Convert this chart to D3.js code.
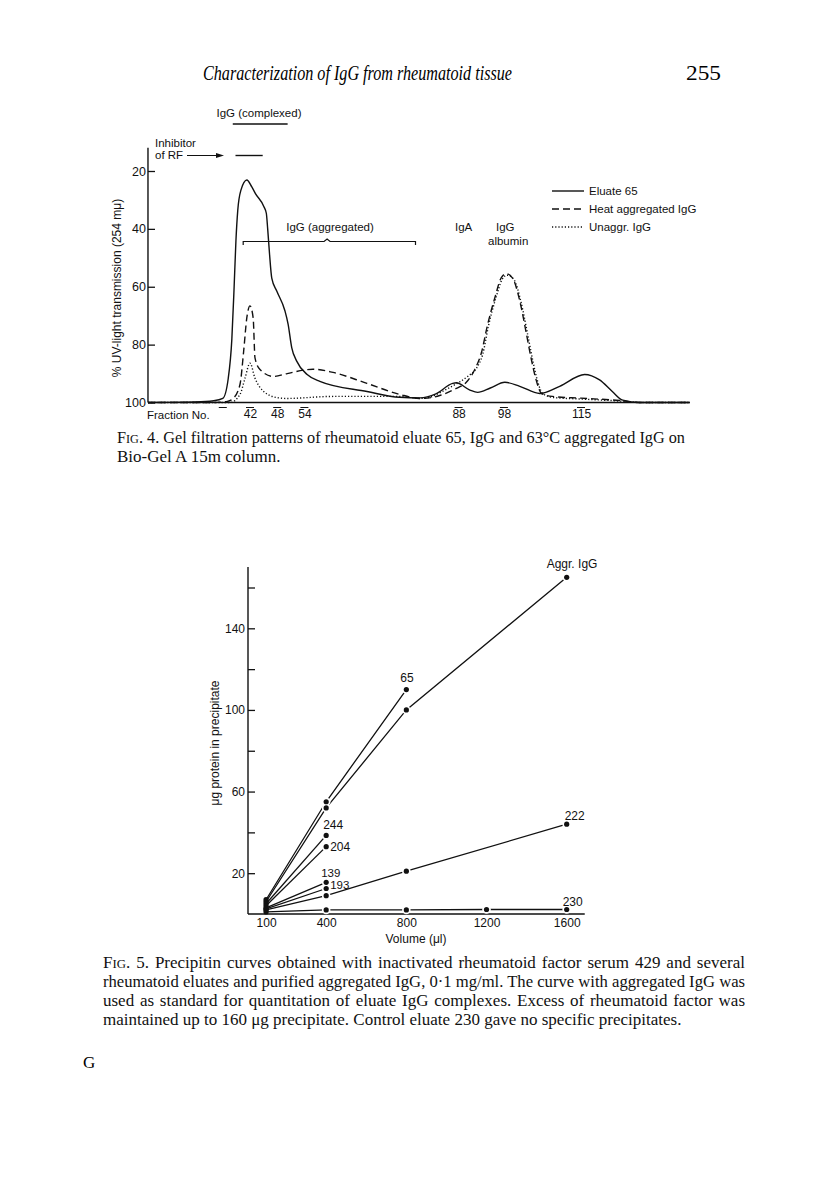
<!DOCTYPE html>
<html><head><meta charset="utf-8">
<script src="https://cdn.jsdelivr.net/npm/d3@7"></script>
<style>body{margin:0;background:#fff}svg{display:block}</style>
</head><body>
<svg id="page" width="816" height="1190"></svg>
<script>
// ---------------- DATA ----------------
// Fig. 4 : fraction number vs % UV-light transmission
const fig4FractionTicks = [42, 48, 54, 88, 98, 115];
const fig4BlankTicks = [36];
const fig4YTicks = [20, 40, 60, 80, 100];
const eluate65 = [[19.5,100],[30,99.8],[34,99.4],[36,98.6],[37.2,91.7],[38,78],[38.5,60],[38.9,44],[39.3,33.6],[40,26.6],[41.3,23.1],[42.4,25.5],[43.2,27.8],[45.1,32.4],[45.6,34.6],[45.9,40],[46.3,48.5],[46.8,57],[47.9,61.5],[49.7,68.3],[50.4,72.9],[51.2,81],[52.3,85.7],[54.6,90.3],[57.4,92.7],[67.8,96.2],[75,98.2],[79.5,98.4],[83,97],[86.7,93.4],[87.5,93.2],[90.5,95.7],[92.2,96.5],[95,95],[98.2,93],[101.5,94.4],[105.9,96.9],[110.3,94.4],[115.8,90.3],[119.1,92.2],[121.9,96.2],[124.2,99.2],[128,100],[139,100]];
const heatAggregatedIgG = [[19.5,100],[34,100],[37,99.6],[38.3,98.6],[39.8,93.7],[40.6,82.3],[41.3,70.7],[42,66.6],[42.7,70.8],[43.1,84.6],[44.2,88.6],[47.2,91],[50.2,90],[55.9,88.5],[60.3,89.6],[67.8,93.4],[75,97.2],[79.5,98.6],[82,98.3],[84,97.5],[87,95.5],[90,92.5],[91.6,88.5],[93,83],[94.4,73.1],[96,63.8],[97.4,56.9],[98.5,55.5],[99.9,57],[101.5,64.9],[103,76.6],[104,84.7],[105.1,92.2],[106.3,96.9],[108.7,97.9],[115,98.5],[123.5,99.3],[128,100],[139,100]];
const unaggregatedIgG = [[19.5,100],[37.6,100],[39.8,97.2],[40.9,91.6],[42,86.4],[43.1,91.6],[44.9,96],[47.9,98.3],[50.1,98.6],[60.3,97.9],[75,97.9],[79.5,98.6],[82,98],[84,96.5],[87,94],[90,91],[92,88],[93.3,83.5],[94.6,73.5],[96.2,64],[97.6,57.5],[98.7,56],[100.2,57.5],[101.8,65.5],[103.3,77],[104.3,85],[105.4,92.5],[106.6,97],[109,98.3],[115,98.8],[123.5,99.5],[128,100],[139,100]];
const fig4Legend = ["Eluate 65", "Heat aggregated IgG", "Unaggr. IgG"];

// Fig. 5 : volume (µl) vs µg protein in precipitate
const fig5XTicks = [100, 400, 800, 1200, 1600];
const fig5YMajor = [20, 60, 100, 140];
const fig5YMinor = [40, 80, 120, 160];
const aggrIgG = [[100,6],[400,52],[800,100],[1600,165]];
const eluate65b = [[100,7],[400,55],[800,110]];
const eluate244 = [[100,5],[400,38.5]];
const eluate204 = [[100,4],[400,33]];
const eluate139 = [[100,3],[400,15.5]];
const eluate193 = [[100,2.5],[400,12.5]];
const eluate222 = [[100,2],[400,9],[800,21],[1600,44]];
const eluate230 = [[100,1],[400,2],[800,2],[1200,2.2],[1600,2.2]];
const fig5SeriesNames = ["Aggr. IgG","65","244","204","139","193","222","230"];

// ---------------- DRAW ----------------
const svg = d3.select("#page");
const SANS = "'Liberation Sans', Arial, sans-serif";
const SERIF = "'Liberation Serif', 'Times New Roman', serif";

// Running head
svg.append("text").attr("x", 203).attr("y", 80).attr("font-family", SERIF)
  .attr("font-style", "italic").attr("font-size", 20).attr("textLength", 309)
  .attr("lengthAdjust", "spacingAndGlyphs")
  .text("Characterization of IgG from rheumatoid tissue");
svg.append("text").attr("x", 686).attr("y", 80).attr("font-family", SERIF)
  .attr("font-size", 21).attr("textLength", 35).attr("lengthAdjust", "spacingAndGlyphs").text("255");

// ===== Fig 4 =====
const g4 = svg.append("g").attr("font-family", SANS).attr("fill", "#111");
const xF = d3.scaleLinear().domain([42, 115]).range([250, 581]);
const yF = d3.scaleLinear().domain([20, 100]).range([171, 402.5]);

g4.append("line").attr("x1", xF(19.5)).attr("x2", xF(19.5)).attr("y1", yF(12)).attr("y2", yF(100))
  .attr("stroke", "#111").attr("stroke-width", 1.4);
g4.append("line").attr("x1", xF(19.5)).attr("x2", xF(139)).attr("y1", yF(100)).attr("y2", yF(100))
  .attr("stroke", "#111").attr("stroke-width", 1.4);

const yAx4 = g4.append("g").attr("transform", `translate(${xF(19.5)},0)`)
  .call(d3.axisLeft(yF).tickValues(fig4YTicks).tickSizeInner(-7).tickSizeOuter(0).tickPadding(2));
yAx4.select(".domain").remove();
yAx4.selectAll("line").attr("stroke", "#111").attr("stroke-width", 1.3);
yAx4.selectAll("text").attr("font-size", 12.5).attr("font-family", SANS).attr("fill", "#111");

const xAx4 = g4.append("g").attr("transform", `translate(0,${yF(100)})`)
  .call(d3.axisBottom(xF).tickValues(fig4FractionTicks).tickSize(0).tickPadding(7).tickFormat(d3.format("d")));
xAx4.select(".domain").remove();
xAx4.selectAll("text").attr("font-size", 12).attr("font-family", SANS).attr("fill", "#111");
g4.selectAll(".obar").data(fig4FractionTicks.concat(fig4BlankTicks)).enter().append("line")
  .attr("x1", d => xF(d) - 4).attr("x2", d => xF(d) + 4)
  .attr("y1", yF(100) + 5).attr("y2", yF(100) + 5).attr("stroke", "#111").attr("stroke-width", 1);
g4.append("text").attr("x", 147).attr("y", 418.5).attr("font-size", 11.5).text("Fraction No.");

g4.append("text").attr("transform", `translate(121,288) rotate(-90)`).attr("text-anchor", "middle")
  .attr("font-size", 12).text("% UV-light transmission (254 mμ)");

const line4 = d3.line().x(d => xF(d[0])).y(d => yF(d[1])).curve(d3.curveMonotoneX);
const styles4 = [
  {data: eluate65, dash: null},
  {data: heatAggregatedIgG, dash: "7,4"},
  {data: unaggregatedIgG, dash: "1.2,2"}
];
styles4.forEach(s => {
  g4.append("path").attr("d", line4(s.data)).attr("fill", "none").attr("stroke", "#111")
    .attr("stroke-width", 1.4).attr("stroke-dasharray", s.dash);
});

fig4Legend.forEach((t, i) => {
  const y = 191 + i * 18;
  g4.append("line").attr("x1", 552).attr("x2", 584).attr("y1", y).attr("y2", y)
    .attr("stroke", "#111").attr("stroke-width", 1.4).attr("stroke-dasharray", styles4[i].dash);
  g4.append("text").attr("x", 589).attr("y", y + 4).attr("font-size", 11.5).text(t);
});

g4.append("text").attr("x", 259).attr("y", 117).attr("text-anchor", "middle").attr("font-size", 11.5).text("IgG (complexed)");
g4.append("line").attr("x1", xF(38.2)).attr("x2", xF(50.3)).attr("y1", 124).attr("y2", 124).attr("stroke", "#111").attr("stroke-width", 1.4);
g4.append("text").attr("x", 155).attr("y", 147).attr("font-size", 11.5).text("Inhibitor");
g4.append("text").attr("x", 155).attr("y", 159).attr("font-size", 11.5).text("of RF");
g4.append("line").attr("x1", 187).attr("x2", 219).attr("y1", 155.5).attr("y2", 155.5).attr("stroke", "#111").attr("stroke-width", 1);
g4.append("path").attr("d", "M224,155.5 L216,153 L216,158 Z").attr("fill", "#111");
g4.append("line").attr("x1", xF(38.8)).attr("x2", xF(44.8)).attr("y1", 155.5).attr("y2", 155.5).attr("stroke", "#111").attr("stroke-width", 1.4);

g4.append("text").attr("x", 330).attr("y", 231).attr("text-anchor", "middle").attr("font-size", 11.5).text("IgG (aggregated)");
const bx1 = xF(40.5), bx2 = xF(78.5), bm = xF(59);
g4.append("path").attr("d", `M${bx1},245 L${bx1},241.5 L${bm-3},241.5 L${bm},239 L${bm+3},241.5 L${bx2},241.5 L${bx2},245`)
  .attr("fill", "none").attr("stroke", "#111").attr("stroke-width", 1.2);
g4.append("text").attr("x", 455).attr("y", 231).attr("font-size", 11.5).text("IgA");
g4.append("text").attr("x", 496).attr("y", 231).attr("font-size", 11.5).text("IgG");
g4.append("text").attr("x", 488).attr("y", 245).attr("font-size", 11.5).text("albumin");

// justified caption lines: stretch word spacing to the target width
const CAP = 17;
function caption(x, y, parts, len) {
  const t = svg.append("text").attr("x", x).attr("y", y).attr("font-family", SERIF).attr("font-size", CAP).attr("fill", "#111");
  parts.forEach(p => t.append("tspan").attr("font-size", p.s || CAP).text(p.t));
  if (len) {
    const natural = t.node().getComputedTextLength();
    const spaces = parts.map(p => p.t).join("").split(" ").length - 1;
    if (natural < len && spaces > 0) t.attr("word-spacing", (len - natural) / spaces);
    else if (natural > len) t.attr("textLength", len).attr("lengthAdjust", "spacingAndGlyphs");
  }
}
caption(117, 443, [{t:"F"},{t:"IG", s:12.8},{t:". 4. Gel filtration patterns of rheumatoid eluate 65, IgG and 63°C aggregated IgG on"}], 568);
caption(117, 462, [{t:"Bio-Gel A 15m column."}]);

// ===== Fig 5 =====
const g5 = svg.append("g").attr("font-family", SANS).attr("fill", "#111");
const xV = d3.scaleLinear().domain([0, 1600]).range([246, 566.7]);
const yV = d3.scaleLinear().domain([0, 160]).range([914, 587.5]);

g5.append("line").attr("x1", 248).attr("x2", 248).attr("y1", yV(170)).attr("y2", yV(0))
  .attr("stroke", "#111").attr("stroke-width", 1.4);
g5.append("line").attr("x1", 248).attr("x2", xV(1690)).attr("y1", yV(0)).attr("y2", yV(0))
  .attr("stroke", "#111").attr("stroke-width", 1.4);

const yAx5 = g5.append("g").attr("transform", "translate(248,0)")
  .call(d3.axisLeft(yV).tickValues(fig5YMajor).tickSizeInner(-7).tickSizeOuter(0).tickPadding(3));
yAx5.select(".domain").remove();
yAx5.selectAll("line").attr("stroke", "#111").attr("stroke-width", 1.3);
yAx5.selectAll("text").attr("font-size", 12).attr("font-family", SANS).attr("fill", "#111");
const yAx5m = g5.append("g").attr("transform", "translate(248,0)")
  .call(d3.axisLeft(yV).tickValues(fig5YMinor).tickSizeInner(-7).tickSizeOuter(0).tickFormat(""));
yAx5m.select(".domain").remove();
yAx5m.selectAll("line").attr("stroke", "#111").attr("stroke-width", 1.3);

const xAx5 = g5.append("g").attr("transform", `translate(0,${yV(0)})`)
  .call(d3.axisBottom(xV).tickValues(fig5XTicks).tickSize(0).tickPadding(4).tickFormat(d3.format("d")));
xAx5.select(".domain").remove();
xAx5.selectAll("text").attr("font-size", 12).attr("font-family", SANS).attr("fill", "#111");

g5.append("text").attr("x", 416).attr("y", 943).attr("text-anchor", "middle").attr("font-size", 12).text("Volume (μl)");
g5.append("text").attr("transform", "translate(219,743) rotate(-90)").attr("text-anchor", "middle")
  .attr("font-size", 12).text("μg protein in precipitate");

const series5 = [aggrIgG, eluate65b, eluate244, eluate204, eluate139, eluate193, eluate222, eluate230];
const line5 = d3.line().x(d => xV(d[0])).y(d => yV(d[1]));
series5.forEach(s => {
  g5.append("path").attr("d", line5(s)).attr("fill", "none").attr("stroke", "#111").attr("stroke-width", 1.3);
});
series5.forEach(s => {
  g5.selectAll(null).data(s.filter(d => d[0] > 100)).enter().append("circle")
    .attr("cx", d => xV(d[0])).attr("cy", d => yV(d[1])).attr("r", 4.3).attr("fill", "#fff");
});
series5.forEach(s => {
  g5.selectAll(null).data(s).enter().append("circle")
    .attr("cx", d => xV(d[0])).attr("cy", d => yV(d[1])).attr("r", 2.6).attr("fill", "#111");
});

const labelOffsets = [[-20,-9],[-6,-8],[-3,-6],[4,4],[-5,-5.5],[4,0.5],[-2,-4],[-4,-4]];
series5.forEach((s, i) => {
  const p = s[s.length - 1];
  g5.append("text").attr("x", xV(p[0]) + labelOffsets[i][0]).attr("y", yV(p[1]) + labelOffsets[i][1])
    .attr("font-size", i === 4 || i === 5 ? 11.5 : 12).text(fig5SeriesNames[i]);
});

caption(103, 968, [{t:"F"},{t:"IG", s:12.8},{t:". 5. Precipitin curves obtained with inactivated rheumatoid factor serum 429 and several"}], 642);
caption(103, 987, [{t:"rheumatoid eluates and purified aggregated IgG, 0·1 mg/ml. The curve with aggregated IgG was"}], 642);
caption(103, 1006, [{t:"used as standard for quantitation of eluate IgG complexes. Excess of rheumatoid factor was"}], 642);
caption(103, 1025, [{t:"maintained up to 160 μg precipitate. Control eluate 230 gave no specific precipitates."}]);
svg.append("text").attr("x", 83).attr("y", 1068).attr("font-family", SERIF).attr("font-size", 17).text("G");
</script>
</body></html>
